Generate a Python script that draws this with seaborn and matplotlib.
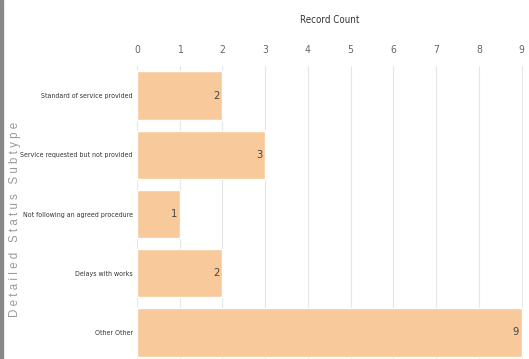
import matplotlib
matplotlib.use("Agg")
import matplotlib.pyplot as plt
import seaborn as sns
import pandas as pd

categories = ["Standard of service provided", "Service requested but not provided",
              "Not following an agreed procedure", "Delays with works", "Other Other"]
counts = [2, 3, 1, 2, 9]
ticks = list(range(0, 10))

sns.set_theme(style="white")
plt.rcParams['font.family'] = ['DejaVu Sans']
plt.rcParams['font.stretch'] = 'condensed'

df = pd.DataFrame({"cat": categories, "count": counts})

fig = plt.figure(figsize=(5.29, 3.59), dpi=100)
ax = fig.add_axes([137/529, 1 - 362/359, (523 - 137)/529, (362 - 66)/359])

sns.barplot(data=df, y="cat", x="count", color="#F8C99A", saturation=1, width=0.82, ax=ax, zorder=2)
ax.set_xlim(0, 9.03)
ax.set_xticks(ticks)
ax.xaxis.tick_top()
ax.xaxis.set_label_position("top")
ax.set_xlabel("Record Count", fontsize=7, color="#333333", labelpad=16)
ax.set_ylabel("")
ax.tick_params(axis="x", length=0, labelsize=7.5, labelcolor="#666666", pad=8)
ax.tick_params(axis="y", length=0, labelsize=5.0, labelcolor="#333333", pad=3)
ax.grid(axis="x", color="#e6e6e6", linewidth=0.8, zorder=0)
for s in ax.spines.values():
    s.set_visible(False)

for i, v in enumerate(counts):
    ax.text(v - 0.06, i, str(v), ha="right", va="center", fontsize=8, color="#444444", zorder=3)

fig.text(15/529, 1 - 219/359, "D e t a i l e d   S t a t u s   S u b t y p e", rotation=90,
         ha="center", va="center", fontsize=8.3, color="#999999", family=['Liberation Sans', 'DejaVu Sans'], stretch='normal')

fig.patches.append(plt.Rectangle((0, 0), 3/529, 1, transform=fig.transFigure, color="#888888", figure=fig))

fig.savefig("out.png", dpi=100)
